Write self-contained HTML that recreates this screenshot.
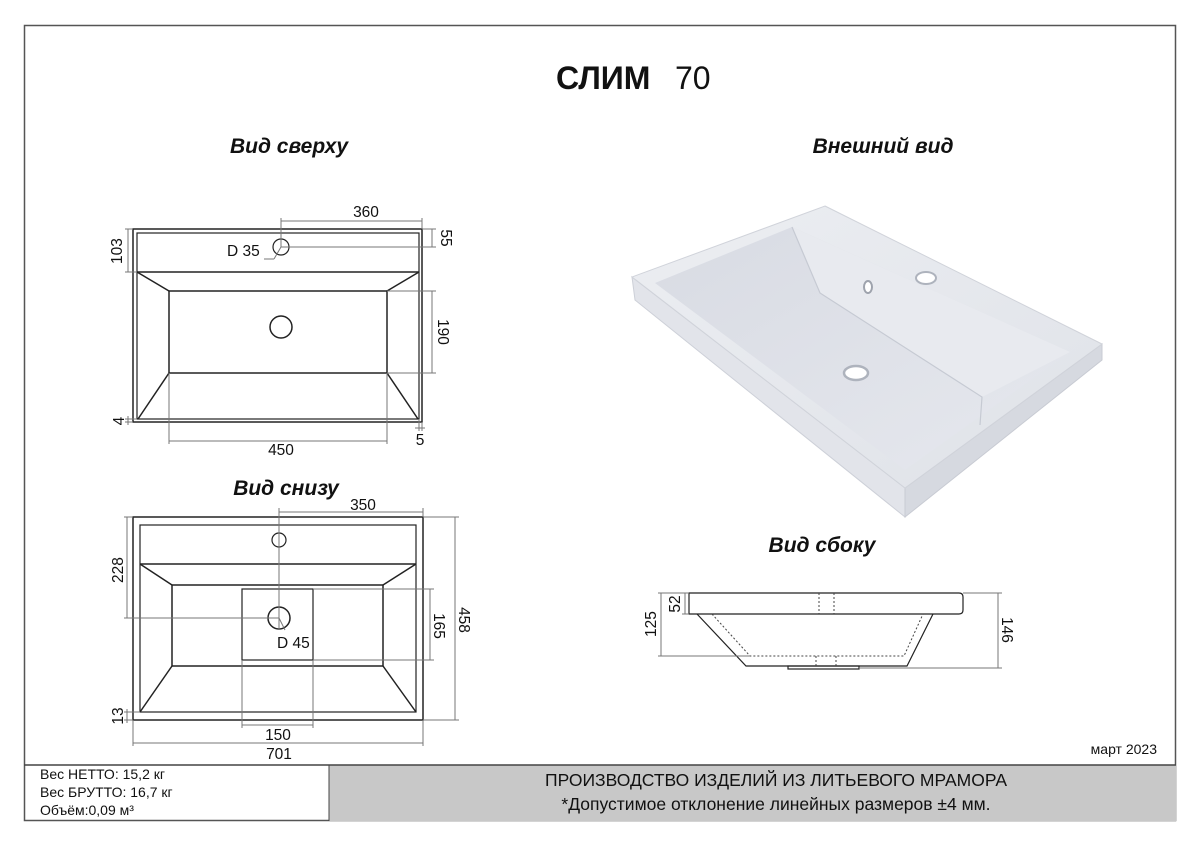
<!DOCTYPE html>
<html><head><meta charset="utf-8"><style>
html,body{margin:0;padding:0;background:#fff;}
svg{display:block;font-family:"Liberation Sans",sans-serif;}
</style></head><body>
<svg width="1200" height="849" viewBox="0 0 1200 849" xmlns="http://www.w3.org/2000/svg">
<defs>
<linearGradient id="top" x1="0" y1="0" x2="1" y2="1">
<stop offset="0" stop-color="#eceef2"/><stop offset="1" stop-color="#dfe2e8"/></linearGradient>
<linearGradient id="bowl" x1="0" y1="0" x2="1" y2="1">
<stop offset="0" stop-color="#d8dbe3"/><stop offset="1" stop-color="#e6e8ee"/></linearGradient>
</defs>
<rect x="0" y="0" width="1200" height="849" fill="#fff"/>
<rect x="24.5" y="25.5" width="1151" height="795" fill="none" stroke="#555" stroke-width="1.5"/>
<rect x="329" y="765" width="847" height="56" fill="#c8c8c8"/>
<line x1="24" y1="765" x2="1176" y2="765" stroke="#444" stroke-width="1.5"/>
<line x1="329" y1="765" x2="329" y2="821" stroke="#444" stroke-width="1"/>
<g font-size="14" fill="#111">
<text x="40" y="779">Вес НЕТТО: 15,2 кг</text>
<text x="40" y="797">Вес БРУТТО: 16,7 кг</text>
<text x="40" y="815">Объём:0,09 м³</text>
</g>
<g font-size="17.5" fill="#111" text-anchor="middle">
<text x="776" y="786">ПРОИЗВОДСТВО ИЗДЕЛИЙ ИЗ ЛИТЬЕВОГО МРАМОРА</text>
<text x="776" y="810">*Допустимое отклонение линейных размеров ±4 мм.</text>
</g>
<text x="1157" y="754" font-size="14" text-anchor="end" fill="#111">март 2023</text>

<text x="556" y="89" font-size="32" font-weight="bold" fill="#111">СЛИМ</text>
<text x="675" y="89" font-size="32" fill="#111">70</text>
<g font-size="21" font-weight="bold" font-style="italic" fill="#111" text-anchor="middle">
<text x="289" y="153">Вид сверху</text>
<text x="883" y="153">Внешний вид</text>
<text x="286" y="495">Вид снизу</text>
<text x="822" y="552">Вид сбоку</text>
</g>

<g fill="none" stroke="#222" stroke-width="1.5">
<rect x="133" y="229" width="289" height="193"/>
<rect x="137" y="233" width="282" height="186" stroke-width="1.2"/>
<line x1="137" y1="272" x2="419" y2="272"/>
<rect x="169" y="291" width="218" height="82"/>
<line x1="137" y1="272" x2="169" y2="291"/><line x1="419" y1="272" x2="387" y2="291"/>
<line x1="169" y1="373" x2="138" y2="419"/><line x1="387" y1="373" x2="418" y2="419"/>
<circle cx="281" cy="327" r="11"/>
<circle cx="281" cy="247" r="8" stroke-width="1.2"/>
</g>
<g fill="none" stroke="#777" stroke-width="1">
<line x1="281" y1="221" x2="422" y2="221"/><line x1="281" y1="218" x2="281" y2="247"/><line x1="422" y1="218" x2="422" y2="229"/>
<line x1="432" y1="229" x2="432" y2="247"/><line x1="422" y1="229" x2="436" y2="229"/><line x1="281" y1="247" x2="436" y2="247"/>
<line x1="128" y1="229" x2="128" y2="272"/><line x1="125" y1="229" x2="133" y2="229"/><line x1="125" y1="272" x2="137" y2="272"/>
<line x1="432" y1="291" x2="432" y2="373"/><line x1="387" y1="291" x2="436" y2="291"/><line x1="387" y1="373" x2="436" y2="373"/>
<line x1="128" y1="416" x2="128" y2="425"/><line x1="125" y1="419" x2="137" y2="419"/><line x1="125" y1="422" x2="133" y2="422"/>
<line x1="169" y1="373" x2="169" y2="444"/><line x1="387" y1="373" x2="387" y2="444"/><line x1="169" y1="441" x2="387" y2="441"/>
<line x1="415" y1="428" x2="425" y2="428"/><line x1="419" y1="419" x2="419" y2="431"/><line x1="422" y1="422" x2="422" y2="431"/>
<line x1="264" y1="259" x2="274" y2="259"/><line x1="274" y1="259" x2="281" y2="247"/>
</g>
<g font-size="15.5" fill="#111">
<text x="366" y="217" text-anchor="middle">360</text>
<text x="227" y="256">D 35</text>
<text x="281" y="455" text-anchor="middle">450</text>
<text x="420" y="445" text-anchor="middle">5</text>
<text transform="translate(122,251) rotate(-90)" text-anchor="middle">103</text>
<text transform="translate(441,238) rotate(90)" text-anchor="middle">55</text>
<text transform="translate(438,332) rotate(90)" text-anchor="middle">190</text>
<text transform="translate(124,421) rotate(-90)" text-anchor="middle">4</text>
</g>

<g fill="none" stroke="#222" stroke-width="1.5">
<rect x="133" y="517" width="290" height="203"/>
<rect x="140" y="525" width="276" height="187" stroke-width="1.2"/>
<line x1="140" y1="564" x2="416" y2="564"/>
<rect x="172" y="585" width="211" height="81"/>
<line x1="140" y1="564" x2="172" y2="585"/><line x1="416" y1="564" x2="383" y2="585"/>
<line x1="172" y1="666" x2="140" y2="712"/><line x1="383" y1="666" x2="416" y2="712"/>
<rect x="242" y="589" width="71" height="71" stroke-width="1.2"/>
<circle cx="279" cy="618" r="11"/>
<circle cx="279" cy="540" r="7" stroke-width="1.2"/>
</g>
<g fill="none" stroke="#777" stroke-width="1">
<line x1="279" y1="512" x2="423" y2="512"/><line x1="279" y1="508" x2="279" y2="630"/><line x1="423" y1="508" x2="423" y2="517"/>
<line x1="127" y1="517" x2="127" y2="618"/><line x1="124" y1="517" x2="133" y2="517"/><line x1="124" y1="618" x2="279" y2="618"/>
<line x1="455" y1="517" x2="455" y2="720"/><line x1="423" y1="517" x2="459" y2="517"/><line x1="423" y1="720" x2="459" y2="720"/>
<line x1="430" y1="589" x2="430" y2="660"/><line x1="313" y1="589" x2="434" y2="589"/><line x1="313" y1="660" x2="434" y2="660"/>
<line x1="127" y1="709" x2="127" y2="723"/><line x1="124" y1="712" x2="140" y2="712"/><line x1="124" y1="720" x2="133" y2="720"/>
<line x1="242" y1="660" x2="242" y2="728"/><line x1="313" y1="660" x2="313" y2="728"/><line x1="242" y1="725" x2="313" y2="725"/>
<line x1="133" y1="720" x2="133" y2="746"/><line x1="423" y1="720" x2="423" y2="746"/><line x1="133" y1="743" x2="423" y2="743"/>
<line x1="279" y1="618" x2="285" y2="630"/>
</g>
<g font-size="15.5" fill="#111">
<text x="363" y="510" text-anchor="middle">350</text>
<text x="277" y="648">D 45</text>
<text x="278" y="740" text-anchor="middle">150</text>
<text x="279" y="759" text-anchor="middle">701</text>
<text transform="translate(123,570) rotate(-90)" text-anchor="middle">228</text>
<text transform="translate(459,620) rotate(90)" text-anchor="middle">458</text>
<text transform="translate(434,626) rotate(90)" text-anchor="middle">165</text>
<text transform="translate(123,716) rotate(-90)" text-anchor="middle">13</text>
</g>

<g fill="none" stroke="#222" stroke-width="1.2">
<path d="M689 593 H959 Q963 593 963 597 V610 Q963 614 959 614 H689 Z"/>
<polyline points="697,614 746,666 907,666 933,614"/>
<rect x="788" y="666" width="71" height="3"/>
</g>
<g fill="none" stroke="#444" stroke-width="1" stroke-dasharray="2,2">
<line x1="819" y1="593" x2="819" y2="614"/><line x1="834" y1="593" x2="834" y2="614"/>
<polyline points="712,614 750,656 904,656 923,614"/>
<line x1="816" y1="656" x2="816" y2="666"/><line x1="836" y1="656" x2="836" y2="666"/>
</g>
<g fill="none" stroke="#777" stroke-width="1">
<line x1="685" y1="593" x2="685" y2="614"/><line x1="661" y1="593" x2="661" y2="656"/>
<line x1="658" y1="593" x2="689" y2="593"/><line x1="682" y1="614" x2="689" y2="614"/><line x1="658" y1="656" x2="750" y2="656"/>
<line x1="998" y1="593" x2="998" y2="668"/><line x1="963" y1="593" x2="1002" y2="593"/><line x1="859" y1="668" x2="1002" y2="668"/>
</g>
<g font-size="15.5" fill="#111">
<text transform="translate(680,604) rotate(-90)" text-anchor="middle">52</text>
<text transform="translate(656,624) rotate(-90)" text-anchor="middle">125</text>
<text transform="translate(1002,630) rotate(90)" text-anchor="middle">146</text>
</g>

<g>
<polygon points="632,277 905,488 905,517 635,300" fill="#e2e4ea" stroke="#cdd0d8" stroke-width="1"/>
<polygon points="905,488 1102,344 1102,360 905,517" fill="#d6d9e0" stroke="#c8cbd3" stroke-width="1"/>
<polygon points="825,206 1102,344 905,488 632,277" fill="url(#top)" stroke="#d0d3da" stroke-width="1"/>
<polygon points="792,227 1070,352 905,470 655,283" fill="url(#bowl)"/>
<polygon points="792,227 820,293 982,397 1070,352" fill="#e8eaef"/>
<polyline points="792,227 820,293 982,397 980,425" fill="none" stroke="#c6cad3" stroke-width="1.2"/>
<ellipse cx="926" cy="278" rx="10" ry="6" fill="#fff" stroke="#aeb3bd" stroke-width="2"/>
<ellipse cx="868" cy="287" rx="4" ry="6" fill="#fff" stroke="#9ea3ad" stroke-width="2"/>
<ellipse cx="856" cy="373" rx="12" ry="7" fill="#fff" stroke="#aeb3bd" stroke-width="2.5"/>
</g>
</svg>
</body></html>
